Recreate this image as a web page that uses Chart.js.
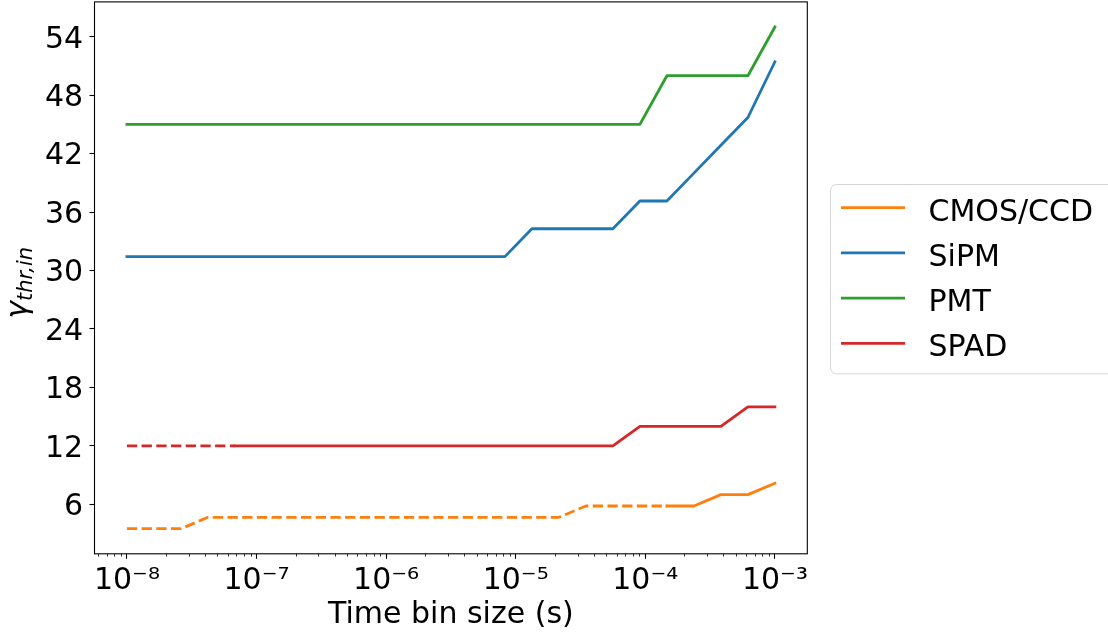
<!DOCTYPE html>
<html>
<head>
<meta charset="utf-8">
<script src="https://cdn.jsdelivr.net/npm/chart.js@4.4.1/dist/chart.umd.min.js"></script>
<style>
  html, body { margin: 0; padding: 0; background: #fff; }
  #wrap { width: 1108px; height: 634px; }
</style>
</head>
<body>
<div id="wrap"><canvas id="chart"></canvas></div>
<script>
// time bin sizes (s), one per sample
const binSizes = [
  1e-8, 1.615e-8, 2.610e-8, 4.217e-8, 6.813e-8,
  1.101e-7, 1.778e-7, 2.873e-7, 4.642e-7, 7.499e-7,
  1.212e-6, 1.957e-6, 3.162e-6, 5.109e-6, 8.254e-6,
  1.334e-5, 2.154e-5, 3.481e-5, 5.623e-5, 9.085e-5,
  1.468e-4, 2.371e-4, 3.831e-4, 6.190e-4, 1e-3,
];

const cmos = [
  3.5, 3.5, 3.5, 4.67, 4.67,
  4.67, 4.67, 4.67, 4.67, 4.67,
  4.67, 4.67, 4.67, 4.67, 4.67,
  4.67, 4.67, 5.83, 5.83, 5.83,
  5.83, 5.83, 7.0, 7.0, 8.17,
];
const sipm = [
  31.43, 31.43, 31.43, 31.43, 31.43,
  31.43, 31.43, 31.43, 31.43, 31.43,
  31.43, 31.43, 31.43, 31.43, 31.43,
  34.29, 34.29, 34.29, 34.29, 37.14,
  37.14, 40.0, 42.86, 45.71, 51.43,
];
const pmt = [
  45, 45, 45, 45, 45,
  45, 45, 45, 45, 45,
  45, 45, 45, 45, 45,
  45, 45, 45, 45, 45,
  50, 50, 50, 50, 55,
];
const spad = [
  12, 12, 12, 12, 12,
  12, 12, 12, 12, 12,
  12, 12, 12, 12, 12,
  12, 12, 12, 12, 14,
  14, 14, 14, 16, 16,
];

// samples up to this index are drawn dashed
const cmosDashedUntil = 20;
const spadDashedUntil = 4;

const yTicks = [6, 12, 18, 24, 30, 36, 42, 48, 54];
const xTicks = [1e-8, 1e-7, 1e-6, 1e-5, 1e-4, 1e-3];
const xTickLabels = ["10⁻⁸", "10⁻⁷", "10⁻⁶", "10⁻⁵", "10⁻⁴", "10⁻³"];

const FONT = '"DejaVu Sans", "Liberation Sans", sans-serif';
const LW = 2.8;
const DASH = [10.3, 4.4];

function pts(ys) {
  return ys.map((y, i) => ({ x: binSizes[i], y }));
}

function series(label, color, ys, dashedUntil) {
  return {
    label,
    data: pts(ys),
    borderColor: color,
    backgroundColor: color,
    borderWidth: LW,
    pointRadius: 0,
    tension: 0,
    fill: false,
    borderJoinStyle: "round",
    borderCapStyle: "square",
    segment: dashedUntil == null ? undefined : {
      borderDash: (c) => (c.p1DataIndex <= dashedUntil ? DASH : undefined),
      borderCapStyle: (c) => (c.p1DataIndex <= dashedUntil ? "butt" : undefined),
    },
  };
}

// no label overflow padding, so the axes box stays where it is
function noPad(s) {
  s.paddingTop = 0;
  s.paddingBottom = 0;
  s.paddingLeft = 0;
  s.paddingRight = 0;
}

// full box around the axes + minor log ticks on x
const framePlugin = {
  id: "frame",
  afterDraw(chart) {
    const { ctx, chartArea: a } = chart;
    const xs = chart.scales.x;
    ctx.save();
    ctx.strokeStyle = "#000";
    ctx.lineWidth = 0.8;
    for (let e = -9; e <= -3; e++) {
      for (let m = 2; m <= 9; m++) {
        const v = m * Math.pow(10, e);
        if (v < xs.min || v > xs.max) continue;
        const px = Math.round(xs.getPixelForValue(v)) + 0.5;
        ctx.beginPath();
        ctx.moveTo(px, a.bottom);
        ctx.lineTo(px, a.bottom + 2.8);
        ctx.stroke();
      }
    }
    ctx.lineWidth = 1.1;
    ctx.strokeRect(a.left, a.top, a.right - a.left, a.bottom - a.top);
    ctx.restore();
  },
};

// y axis title with subscript
const yTitlePlugin = {
  id: "yTitle",
  afterDraw(chart) {
    const { ctx, chartArea: a } = chart;
    const big = "italic 30px " + FONT;
    const small = "italic 21px " + FONT;
    ctx.save();
    ctx.font = big;
    const w1 = ctx.measureText("γ").width;
    ctx.font = small;
    const w2 = ctx.measureText("thr,in").width;
    const cy = (a.top + a.bottom) / 2 + 5;
    ctx.translate(27, cy);
    ctx.rotate(-Math.PI / 2);
    ctx.fillStyle = "#000";
    ctx.textBaseline = "alphabetic";
    ctx.textAlign = "left";
    const x0 = -(w1 + w2) / 2;
    ctx.font = big;
    ctx.fillText("γ", x0, 0);
    ctx.font = small;
    ctx.fillText("thr,in", x0 + w1, 5);
    ctx.restore();
  },
};

// framed legend to the right of the axes
const legendPlugin = {
  id: "boxLegend",
  afterDraw(chart) {
    const { ctx, chartArea: a } = chart;
    const left = a.right + 22.7;
    const top = 184;
    const bottom = 373.3;
    ctx.save();
    ctx.fillStyle = "rgba(255,255,255,0.8)";
    ctx.strokeStyle = "#d6d6d6";
    ctx.lineWidth = 1;
    ctx.beginPath();
    ctx.roundRect(left + 0.5, top + 0.5, 300, bottom - top, 6);
    ctx.fill();
    ctx.stroke();
    ctx.font = "30px " + FONT;
    ctx.textBaseline = "alphabetic";
    ctx.textAlign = "left";
    chart.data.datasets.forEach((ds, i) => {
      const yl = 207.7 + i * 45.2;
      ctx.strokeStyle = ds.borderColor;
      ctx.lineWidth = LW;
      ctx.lineCap = "butt";
      ctx.beginPath();
      ctx.moveTo(left + 11, yl);
      ctx.lineTo(left + 75, yl);
      ctx.stroke();
      ctx.fillStyle = "#000";
      ctx.fillText(ds.label, left + 98.5, yl + 13);
    });
    ctx.restore();
  },
};

new Chart(document.getElementById("chart"), {
  type: "line",
  data: {
    datasets: [
      series("CMOS/CCD", "#ff7f0e", cmos, cmosDashedUntil),
      series("SiPM", "#1f77b4", sipm),
      series("PMT", "#2ca02c", pmt),
      series("SPAD", "#d62728", spad, spadDashedUntil),
    ],
  },
  options: {
    responsive: true,
    maintainAspectRatio: false,
    animation: false,
    devicePixelRatio: 1,
    layout: { padding: { left: 0, top: 1.9, right: 300.7, bottom: 0 } },
    plugins: {
      legend: { display: false },
      tooltip: { enabled: false },
    },
    scales: {
      x: {
        type: "logarithmic",
        min: Math.pow(10, -8.25),
        max: Math.pow(10, -2.75),
        border: { display: false },
        grid: {
          drawOnChartArea: false,
          drawTicks: true,
          tickLength: 5,
          tickWidth: 1.1,
          tickColor: "#000",
        },
        afterBuildTicks: (s) => { s.ticks = xTicks.map((v) => ({ value: v })); },
        afterFit: (s) => { s.height = 634 - 553.8; noPad(s); },
        ticks: {
          autoSkip: false,
          maxRotation: 0,
          color: "#000",
          padding: 4.6,
          font: { family: FONT, size: 30 },
          callback: (v) => {
            const i = xTicks.findIndex((t) => Math.abs(t - v) / t < 1e-6);
            return i >= 0 ? xTickLabels[i] : "";
          },
        },
        title: {
          display: true,
          text: "Time bin size (s)",
          color: "#000",
          font: { family: FONT, size: 30 },
          padding: { top: 0, bottom: 1 },
        },
      },
      y: {
        type: "linear",
        min: 0.925,
        max: 57.575,
        border: { display: false },
        grid: {
          drawOnChartArea: false,
          drawTicks: true,
          tickLength: 5,
          tickWidth: 1.1,
          tickColor: "#000",
        },
        afterBuildTicks: (s) => { s.ticks = yTicks.map((v) => ({ value: v })); },
        afterFit: (s) => { s.width = 94.5; noPad(s); },
        ticks: {
          color: "#000",
          padding: 6.3,
          labelOffset: 3,
          font: { family: FONT, size: 30 },
        },
      },
    },
  },
  plugins: [framePlugin, yTitlePlugin, legendPlugin],
});
</script>
</body>
</html>
